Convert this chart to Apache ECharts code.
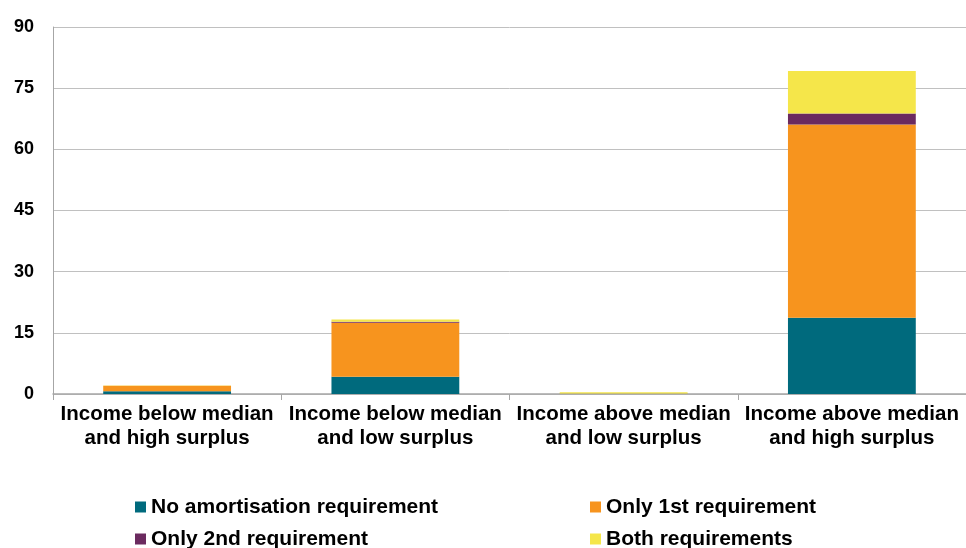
<!DOCTYPE html>
<html>
<head>
<meta charset="utf-8">
<script src="https://cdn.jsdelivr.net/npm/echarts@6/dist/echarts.min.js"></script>
<style>
  html, body { margin: 0; padding: 0; background: #fff; }
  #chart { width: 966px; height: 548px; }
</style>
</head>
<body>
<div id="chart"></div>
<script>
const categories = [
  'Income below median\nand high surplus',
  'Income below median\nand low surplus',
  'Income above median\nand low surplus',
  'Income above median\nand high surplus',
]
const seriesNames = ['No amortisation requirement', 'Only 1st requirement', 'Only 2nd requirement', 'Both requirements']
const noAmortisation = [0.7, 4.25, 0.05, 18.7]
const onlyFirst = [1.3, 13.2, 0.05, 47.4]
const onlySecond = [0.05, 0.25, 0.02, 2.7]
const bothReq = [0.05, 0.6, 0.3, 10.4]
const yTicks = [0, 15, 30, 45, 60, 75, 90]

const colors = ['#006a7d', '#f7941e', '#6b2a5f', '#f5e64a']
const values = [noAmortisation, onlyFirst, onlySecond, bothReq]
const font = 'Arial, "Liberation Sans", sans-serif'

const chart = echarts.init(document.getElementById('chart'), null, { renderer: 'canvas' })

const legendBase = {
  orient: 'vertical',
  top: 496,
  height: 60,
  padding: 0,
  itemWidth: 11, itemHeight: 11, itemGap: 10,
  icon: 'rect',
  textStyle: { fontFamily: font, fontSize: 21, fontWeight: 'bold', color: '#000', lineHeight: 22 },
}

chart.setOption({
  animation: false,
  backgroundColor: '#fff',
  grid: { left: 53, right: 0, top: 27, bottom: 154, containLabel: false },
  legend: [
    { ...legendBase, data: [seriesNames[0], seriesNames[2]], left: 135 },
    { ...legendBase, data: [seriesNames[1], seriesNames[3]], left: 590 },
  ],
  xAxis: {
    type: 'category',
    data: categories,
    axisLine: { lineStyle: { color: '#a6a6a6', width: 1.5 } },
    axisTick: { show: true, length: 6, lineStyle: { color: '#a6a6a6' } },
    axisLabel: {
      fontFamily: font, fontSize: 20.5, fontWeight: 'bold', color: '#000',
      lineHeight: 24, margin: 8, interval: 0,
    },
  },
  yAxis: {
    type: 'value',
    min: yTicks[0],
    max: yTicks[yTicks.length - 1],
    interval: 15,
    axisLine: { show: true, lineStyle: { color: '#a6a6a6', width: 1 } },
    axisTick: { show: false },
    splitLine: { lineStyle: { color: '#c0c0c0', width: 1 } },
    axisLabel: { fontFamily: font, fontSize: 18, fontWeight: 'bold', color: '#000', margin: 19 },
  },
  series: seriesNames.map((name, i) => ({
    name,
    type: 'bar',
    stack: 'total',
    barWidth: '56%',
    data: values[i],
    itemStyle: { color: colors[i] },
  })),
})
</script>
</body>
</html>
